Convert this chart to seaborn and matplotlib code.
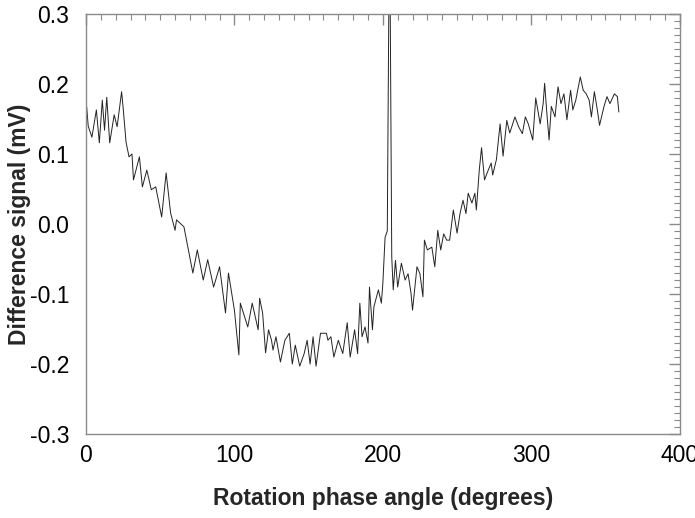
import numpy as np
import pandas as pd
import matplotlib
matplotlib.use('Agg')
import matplotlib.pyplot as plt
from matplotlib.ticker import MultipleLocator, FormatStrFormatter
import seaborn as sns

# ---- DATA ----
angle = [0, 0.5, 1.5, 4, 7, 9, 11, 12.5, 14, 16, 19, 21, 24, 25, 27, 29, 31, 32, 36, 38,
         41, 44, 47, 51, 54, 57, 60, 61, 66, 69, 72, 75, 79, 82, 86, 90, 94, 96, 100, 103,
         104, 109, 112, 116, 117, 119, 121, 123, 125, 126, 128, 131, 134, 137, 139, 141, 144, 147, 149, 151,
         153, 155, 158, 162, 163, 165, 167, 170, 173, 176, 178, 181, 183, 184.5, 186, 188, 190, 191, 193, 194,
         197, 199, 200, 201.5, 203, 204, 205, 206, 207, 208.5, 210, 212.5, 215, 217, 219, 220, 223, 225, 227, 228,
         230, 233, 235, 237, 239, 241, 243, 245, 247.5, 250, 252, 254, 256, 257.5, 260, 262, 263, 265, 266.5, 268.5,
         271, 273, 274, 276.5, 279, 281, 283.5, 285.5, 289, 291.5, 294, 296, 298, 301, 303, 306, 308, 309, 310.5, 312,
         313.5, 316, 318, 320, 322, 324, 326.5, 328, 330, 333, 335, 337, 339, 340.5, 342.5, 344.5, 346, 349, 351, 353,
         356, 358, 359]
signal = [0.153, 0.167, 0.140, 0.124, 0.163, 0.116, 0.177, 0.134, 0.181, 0.116, 0.156, 0.139, 0.189, 0.167, 0.117, 0.096, 0.100, 0.063, 0.096, 0.053,
          0.077, 0.049, 0.053, 0.010, 0.073, 0.016, -0.009, 0.006, -0.004, -0.037, -0.070, -0.037, -0.080, -0.051, -0.090, -0.061, -0.127, -0.070, -0.123, -0.187,
          -0.113, -0.147, -0.113, -0.151, -0.106, -0.127, -0.184, -0.151, -0.166, -0.180, -0.161, -0.197, -0.166, -0.156, -0.200, -0.173, -0.203, -0.185, -0.166, -0.200,
          -0.161, -0.203, -0.156, -0.156, -0.166, -0.161, -0.190, -0.166, -0.185, -0.141, -0.190, -0.151, -0.185, -0.113, -0.161, -0.147, -0.170, -0.090, -0.151, -0.118,
          -0.094, -0.113, -0.085, -0.019, -0.010, 0.300, 0.300, -0.047, -0.094, -0.052, -0.090, -0.056, -0.080, -0.071, -0.099, -0.123, -0.061, -0.071, -0.104, -0.023,
          -0.037, -0.033, -0.061, -0.009, -0.037, -0.014, -0.023, -0.023, 0.020, -0.013, 0.015, 0.034, 0.015, 0.044, 0.030, 0.044, 0.020, 0.078, 0.109, 0.063,
          0.077, 0.087, 0.070, 0.092, 0.143, 0.097, 0.148, 0.130, 0.153, 0.139, 0.129, 0.153, 0.143, 0.120, 0.180, 0.143, 0.172, 0.201, 0.158, 0.120,
          0.168, 0.153, 0.196, 0.172, 0.186, 0.149, 0.191, 0.163, 0.177, 0.210, 0.191, 0.186, 0.177, 0.153, 0.189, 0.163, 0.141, 0.168, 0.182, 0.172,
          0.186, 0.182, 0.160]

df = pd.DataFrame({'angle': angle, 'signal': signal})

# ---- STYLE ----
sns.set_style('white')
plt.rcParams['font.family'] = ['Liberation Sans', 'DejaVu Sans']
plt.rcParams['axes.unicode_minus'] = False

fig = plt.figure(figsize=(6.95, 5.18), dpi=100)
ax = fig.add_axes([0.1237, 0.162, 0.8543, 0.811])

sns.lineplot(data=df, x='angle', y='signal', color='#222222', linewidth=0.7,
             sort=False, ax=ax)

ax.set_xlim(0, 400)
ax.set_ylim(-0.3, 0.3)
ax.xaxis.set_major_locator(MultipleLocator(100))
ax.xaxis.set_minor_locator(MultipleLocator(10))
ax.yaxis.set_major_locator(MultipleLocator(0.1))
ax.yaxis.set_minor_locator(MultipleLocator(0.01))
ax.yaxis.set_major_formatter(FormatStrFormatter('%.1f'))

for s in ax.spines.values():
    s.set_color('#8a8a8a')
    s.set_linewidth(1.0)
ax.tick_params(which='both', direction='in', top=True, right=True,
               color='#8a8a8a', labelsize=16.5, labelcolor='black')
ax.tick_params(which='major', length=8, width=1)
ax.tick_params(which='minor', length=4, width=0.8)
ax.tick_params(axis='x', which='major', pad=7)
ax.tick_params(axis='y', which='major', pad=12)

ax.set_xlabel('Rotation phase angle (degrees)', fontsize=16.5, fontweight='bold')
ax.set_ylabel('Difference signal (mV)', fontsize=16.5, fontweight='bold')
ax.xaxis.set_label_coords(0.5, -0.126)
ax.yaxis.set_label_coords(-0.093, 0.5)

fig.savefig('out.png', dpi=100)
